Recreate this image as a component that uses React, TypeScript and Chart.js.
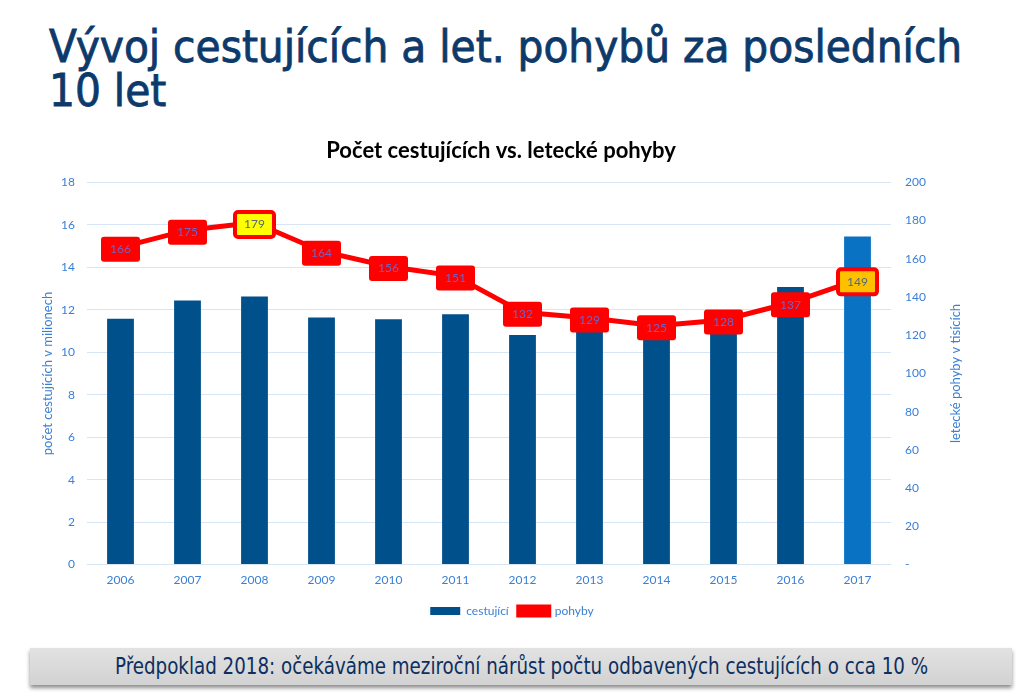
import React, { useEffect, useRef } from "react";
import { Chart, registerables } from "chart.js";

Chart.register(...registerables);

const years = ["2006", "2007", "2008", "2009", "2010", "2011", "2012", "2013", "2014", "2015", "2016", "2017"];
const passengers = [11.58, 12.44, 12.63, 11.64, 11.56, 11.79, 10.81, 10.97, 11.15, 11.9, 13.07, 15.45];
const movements = [166, 175, 179, 164, 156, 151, 132, 129, 125, 128, 137, 149];
const barColors = ["#00508c", "#00508c", "#00508c", "#00508c", "#00508c", "#00508c", "#00508c", "#00508c", "#00508c", "#00508c", "#00508c", "#0a72c2"];
const labelFills = ["#ff0000", "#ff0000", "#ffff00", "#ff0000", "#ff0000", "#ff0000", "#ff0000", "#ff0000", "#ff0000", "#ff0000", "#ff0000", "#ffc000"];

const TITLE_LINE1 = "Vývoj cestujících a let. pohybů za posledních";
const TITLE_LINE2 = "10 let";
const CHART_TITLE = "Počet cestujících vs. letecké pohyby";
const LEFT_AXIS_TITLE = "počet cestujících v milionech";
const RIGHT_AXIS_TITLE = "letecké pohyby v tisících";

const BLUE_TEXT = "#3a7fd5";
const NAVY = "#0d3a6b";
const FONT = "Lato, 'Open Sans', sans-serif";

const extrasPlugin = {
  id: "extras",
  afterDatasetsDraw(chart: any) {
    const ctx = chart.ctx;
    const meta = chart.getDatasetMeta(1);
    ctx.save();
    meta.data.forEach((pt: any, i: number) => {
      const w = 39, h = 25;
      const cy = pt.y + 2;
      const x = pt.x - w / 2;
      const y = cy - h / 2;
      const special = labelFills[i] !== "#ff0000";
      ctx.beginPath();
      if (ctx.roundRect) ctx.roundRect(x, y, w, h, 3);
      else ctx.rect(x, y, w, h);
      ctx.fillStyle = labelFills[i];
      ctx.fill();
      if (special) {
        ctx.lineWidth = 4;
        ctx.strokeStyle = "#ff0000";
        ctx.stroke();
      }
      ctx.fillStyle = special ? "#4d6b78" : "#7462c4";
      ctx.font = "12px " + FONT;
      ctx.textAlign = "center";
      ctx.textBaseline = "middle";
      ctx.fillText(String(movements[i]), pt.x, cy);
    });
    ctx.restore();
  },
  afterDraw(chart: any) {
    const ctx = chart.ctx;
    const a = chart.chartArea;
    const cy = (a.top + a.bottom) / 2;
    ctx.save();
    ctx.fillStyle = BLUE_TEXT;
    ctx.font = "13px " + FONT;
    ctx.textAlign = "center";
    ctx.textBaseline = "middle";
    ctx.translate(48, cy);
    ctx.rotate(-Math.PI / 2);
    ctx.fillText(LEFT_AXIS_TITLE, 0, 0);
    ctx.restore();
    ctx.save();
    ctx.fillStyle = BLUE_TEXT;
    ctx.font = "13px " + FONT;
    ctx.textAlign = "center";
    ctx.textBaseline = "middle";
    ctx.translate(956, cy);
    ctx.rotate(-Math.PI / 2);
    ctx.fillText(RIGHT_AXIS_TITLE, 0, 0);
    ctx.restore();
    const tb = chart.titleBlock;
    if (tb) {
      ctx.save();
      ctx.fillStyle = "#000000";
      ctx.font = "bold 22px " + FONT;
      ctx.textAlign = "center";
      ctx.textBaseline = "middle";
      const ty = tb.top + 18 + 22 * 1.2 / 2;
      ctx.fillText(CHART_TITLE, 501, ty);
      ctx.restore();
    }
  },
};

export default function App() {
  const ref = useRef<HTMLCanvasElement>(null);
  useEffect(() => {
    if (!ref.current) return;
    const chart = new Chart(ref.current, {
      type: "bar",
      data: {
        labels: years,
        datasets: [
          {
            type: "bar",
            label: "cestující",
            data: passengers,
            backgroundColor: barColors,
            yAxisID: "y",
            barPercentage: 0.4,
            categoryPercentage: 1,
            order: 2,
          },
          {
            type: "line",
            label: "pohyby",
            data: movements,
            borderColor: "#ff0000",
            backgroundColor: "#ff0000",
            borderWidth: 5,
            pointRadius: 0,
            yAxisID: "y1",
            order: 1,
          } as any,
        ],
      },
      options: {
        animation: false,
        responsive: false,
        maintainAspectRatio: false,
        layout: { padding: { left: 0, right: 0, top: 0, bottom: 13 } },
        plugins: {
          title: {
            display: true,
            text: CHART_TITLE,
            color: "rgba(0,0,0,0)",
            font: { size: 22, weight: "bold", family: FONT },
            padding: { top: 18, bottom: 18 },
          },
          legend: {
            position: "bottom",
            labels: {
              color: BLUE_TEXT,
              font: { size: 12, family: FONT },
              boxWidth: 30,
              boxHeight: 8,
              padding: 10,
              sort: (a: any, b: any) => a.datasetIndex - b.datasetIndex,
            },
          },
          tooltip: { enabled: false },
        },
        scales: {
          x: {
            grid: { display: false, drawTicks: false },
            border: { display: false },
            ticks: { color: BLUE_TEXT, font: { size: 12, family: FONT }, padding: 8 },
          },
          y: {
            position: "left",
            min: 0,
            max: 18,
            afterFit: (s: any) => { s.width = 87; },
            ticks: { stepSize: 2, color: BLUE_TEXT, font: { size: 12, family: FONT }, padding: 12 },
            grid: { color: "#d7e6f4", drawTicks: false, lineWidth: 1 },
            border: { display: false },
          },
          y1: {
            position: "right",
            min: 0,
            max: 200,
            afterFit: (s: any) => { s.width = 133; },
            ticks: {
              stepSize: 20,
              color: BLUE_TEXT,
              font: { size: 12, family: FONT },
              padding: 14,
              callback: (v: any) => (v === 0 ? "-" : v),
            },
            grid: { drawOnChartArea: false, drawTicks: false },
            border: { display: false },
          },
        },
      },
      plugins: [extrasPlugin],
    });
    return () => chart.destroy();
  }, []);

  const condensed = "'DejaVu Sans Condensed', 'DejaVu Sans', sans-serif";

  return (
    <div style={{ position: "absolute", left: 0, top: 0, width: 1024, height: 695, background: "#ffffff", overflow: "hidden" }}>
      <div
        style={{
          position: "absolute",
          left: 49,
          top: 25,
          whiteSpace: "nowrap",
          fontFamily: condensed,
          fontSize: 44,
          lineHeight: "44px",
          color: NAVY,
          WebkitTextStroke: "0.8px " + NAVY,
          transform: "scaleX(1.03)",
          transformOrigin: "left top",
        } as any}
      >
        {TITLE_LINE1}
        <br />
        {TITLE_LINE2}
      </div>
      <canvas ref={ref} width={1024} height={520} style={{ position: "absolute", left: 0, top: 120 }} />
      <div
        style={{
          position: "absolute",
          left: 30,
          top: 648,
          width: 982,
          height: 37,
          background: "linear-gradient(#e2e2e2, #d2d2d2)",
          boxShadow: "0 3px 4px rgba(0,0,0,0.45)",
        }}
      />
      <div
        style={{
          position: "absolute",
          left: 115,
          top: 648,
          height: 37,
          lineHeight: "37px",
          whiteSpace: "nowrap",
          fontFamily: condensed,
          fontSize: 23,
          color: "#0c2f5f",
          transform: "scaleX(0.883)",
          transformOrigin: "left center",
        }}
      >
        Předpoklad 2018: očekáváme meziroční nárůst počtu odbavených cestujících o <span>cca 10 %</span>
      </div>
    </div>
  );
}
